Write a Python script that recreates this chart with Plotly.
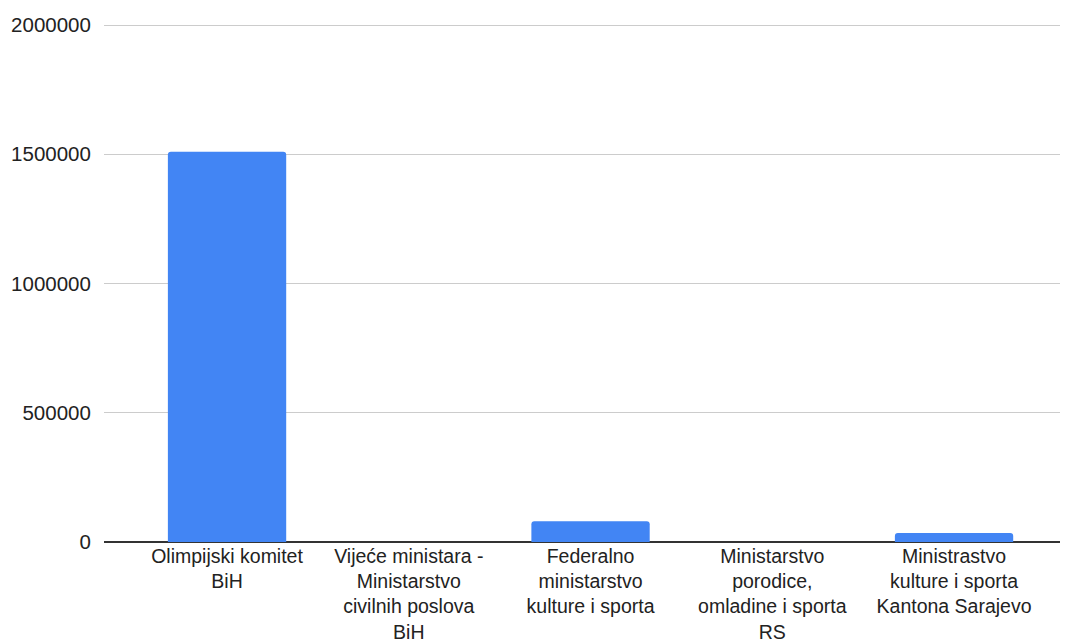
import plotly.graph_objects as go

categories = [
    "Olimpijski komitet<br>BiH",
    "Vijeće ministara -<br>Ministarstvo<br>civilnih poslova<br>BiH",
    "Federalno<br>ministarstvo<br>kulture i sporta",
    "Ministarstvo<br>porodice,<br>omladine i sporta<br>RS",
    "Ministrastvo<br>kulture i sporta<br>Kantona Sarajevo",
]
values = [1510000, 0, 80000, 0, 35000]
y_ticks = [0, 500000, 1000000, 1500000, 2000000]
y_tick_labels = ["0", "500000", "1000000", "1500000", "2000000"]

FONT = "Liberation Sans, Arial, sans-serif"
FS = 20.5
FSX = 19.5

fig = go.Figure(
    go.Bar(
        x=list(range(len(categories))),
        y=values,
        marker=dict(color="#4285F4", line=dict(width=0), cornerradius=3),
        width=0.651,
        hoverinfo="skip",
    )
)

# the page body has an 8px margin, so the figure is sized/offset to compensate
fig.update_layout(
    width=1060,
    height=636,
    margin=dict(l=96, r=0, t=16, b=102),
    paper_bgcolor="white",
    plot_bgcolor="white",
    showlegend=False,
    font=dict(family=FONT, size=FS, color="#222222"),
)

fig.update_xaxes(
    tickmode="array",
    tickvals=list(range(len(categories))),
    ticktext=categories,
    range=[-0.677, 4.627],
    showgrid=False,
    zeroline=False,
    showline=False,
    ticks="",
    tickangle=0,
    automargin=False,
    tickfont=dict(family=FONT, size=FSX, color="#222222"),
)

fig.update_yaxes(
    range=[0, 2004000],
    tickmode="array",
    tickvals=y_ticks,
    ticktext=y_tick_labels,
    showgrid=True,
    gridcolor="#cccccc",
    gridwidth=1,
    zeroline=True,
    zerolinecolor="#333333",
    zerolinewidth=1.5,
    showline=False,
    ticks="outside",
    ticklen=8,
    tickcolor="rgba(0,0,0,0)",
    automargin=False,
    tickfont=dict(family=FONT, size=FS, color="#222222"),
)

fig.write_html("out.html")
